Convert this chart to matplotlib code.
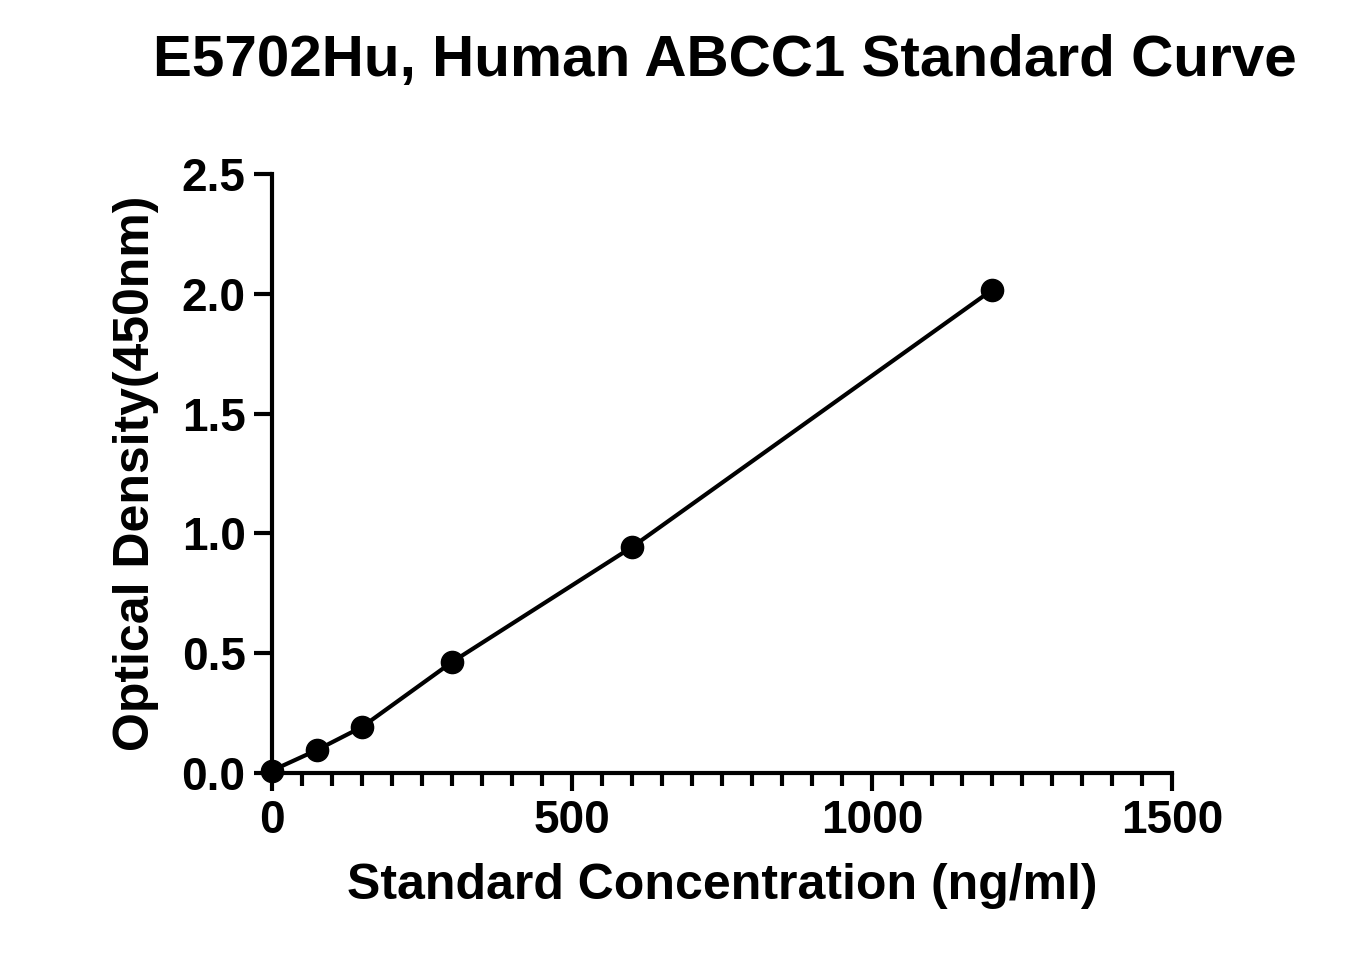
import matplotlib
matplotlib.use("Agg")
import matplotlib.pyplot as plt
from matplotlib.ticker import MultipleLocator

conc = [0, 75, 150, 300, 600, 1200]
od = [0.01, 0.096, 0.192, 0.463, 0.943, 2.016]

plt.rcParams["font.family"] = ["Liberation Sans", "DejaVu Sans"]
plt.rcParams["font.weight"] = "bold"

fig = plt.figure(figsize=(13.62, 9.75), dpi=100)
ax = fig.add_axes([0.1997, 0.2072, 0.6608, 0.6143])
ax.plot(conc, od, color="black", lw=3, marker="o", ms=16, clip_on=False, zorder=3)

ax.set_xlim(0, 1500)
ax.set_ylim(0, 2.5)
ax.xaxis.set_major_locator(MultipleLocator(500))
ax.xaxis.set_minor_locator(MultipleLocator(50))
ax.yaxis.set_major_locator(MultipleLocator(0.5))
ax.yaxis.set_major_formatter(matplotlib.ticker.FormatStrFormatter("%.1f"))
for s in ["top", "right"]:
    ax.spines[s].set_visible(False)
for s in ["left", "bottom"]:
    ax.spines[s].set_linewidth(3)
ax.tick_params(which="major", length=13, width=3, labelsize=33, pad=6)
ax.tick_params(which="minor", length=9, width=3)
for lab in ax.get_xticklabels() + ax.get_yticklabels():
    lab.set_fontweight("bold")

ax.set_xlabel("Standard Concentration (ng/ml)", fontsize=36, fontweight="bold", labelpad=14)
ax.set_ylabel("Optical Density(450nm)", fontsize=36, fontweight="bold", labelpad=16)
fig.suptitle("E5702Hu, Human ABCC1 Standard Curve", fontsize=42, fontweight="bold",
             x=0.532, y=0.965)

fig.savefig("out.png", dpi=100)
